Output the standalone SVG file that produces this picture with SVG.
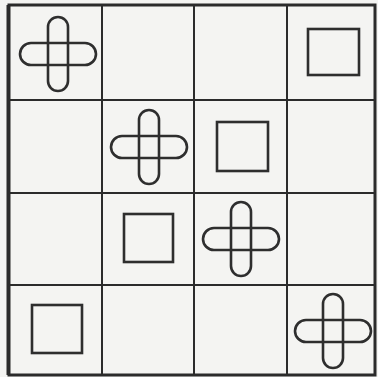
<svg xmlns="http://www.w3.org/2000/svg" width="378" height="377" viewBox="0 0 378 377">
<style>
.grid{stroke:#2b2b2b;stroke-width:2;fill:none}
.border{stroke:#2b2b2b;stroke-width:3;fill:none}
.shape{stroke:#2e2e2e;stroke-width:2.6;fill:none}
</style>
<defs>
<g id="cross">
<rect x="-10" y="-37" width="20" height="74" rx="10" ry="10" class="shape"/>
<rect x="-38" y="-11" width="76" height="22" rx="11" ry="11" class="shape"/>
</g>
</defs>
<rect width="378" height="377" fill="#f4f4f2"/>
<g id="grid">
<rect x="9" y="5" width="366" height="370" class="border"/>
<line x1="8" y1="5" x2="8" y2="375" stroke="#2b2b2b" stroke-width="3"/>
<line x1="102" y1="5" x2="102" y2="375" class="grid"/>
<line x1="194" y1="5" x2="194" y2="375" class="grid"/>
<line x1="287" y1="5" x2="287" y2="375" class="grid"/>
<line x1="9" y1="100" x2="375" y2="100" class="grid"/>
<line x1="9" y1="193" x2="375" y2="193" class="grid"/>
<line x1="9" y1="285" x2="375" y2="285" class="grid"/>
</g>
<g id="cross1"><use href="#cross" x="58" y="54"/></g>
<g id="cross2"><use href="#cross" x="149" y="147"/></g>
<g id="cross3"><use href="#cross" x="241" y="239"/></g>
<g id="cross4"><use href="#cross" x="333" y="331"/></g>
<g id="square1"><rect x="308" y="29" width="51" height="46" class="shape"/></g>
<g id="square2"><rect x="217" y="122" width="51" height="49" class="shape"/></g>
<g id="square3"><rect x="124" y="214" width="49" height="48" class="shape"/></g>
<g id="square4"><rect x="32" y="305" width="50" height="48" class="shape"/></g>
</svg>
